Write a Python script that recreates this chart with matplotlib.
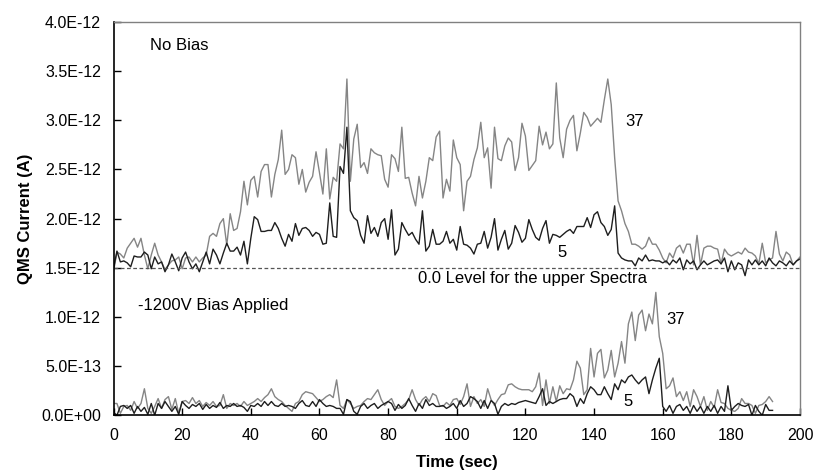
import matplotlib
matplotlib.use("Agg")
import matplotlib.pyplot as plt
from matplotlib.ticker import FuncFormatter, MultipleLocator
import numpy as np

plt.rcParams['font.family'] = ['Liberation Sans', 'DejaVu Sans']

# Upper spectra (No Bias), plotted on the +1.5E-12 baseline, units of 1E-12 A
upper_time = list(range(0, 201))
upper_m37 = [
    1.46, 1.66, 1.64, 1.60, 1.70, 1.75, 1.80, 1.71, 1.80, 1.63,
    1.49, 1.63, 1.75, 1.63, 1.56, 1.48, 1.53, 1.57, 1.58, 1.61,
    1.49, 1.60, 1.61, 1.56, 1.61, 1.56, 1.60, 1.63, 1.82, 1.85,
    1.82, 1.95, 2.00, 1.73, 2.05, 1.88, 1.90, 2.07, 2.38, 2.14,
    2.39, 2.43, 2.22, 2.48, 2.55, 2.55, 2.22, 2.45, 2.60, 2.90,
    2.45, 2.50, 2.65, 2.62, 2.35, 2.50, 2.27, 2.37, 2.43, 2.68,
    2.47, 2.25, 2.71, 2.20, 2.42, 2.38, 2.76, 2.71, 3.42, 2.38,
    2.81, 2.96, 2.52, 2.57, 2.46, 2.71, 2.67, 2.65, 2.64, 2.40,
    2.32, 2.65, 2.61, 2.48, 2.93, 2.41, 2.42, 2.26, 2.13, 2.43,
    2.21, 2.38, 2.62, 2.59, 2.83, 2.89, 2.21, 2.40, 2.28, 2.80,
    2.62, 2.55, 2.08, 2.38, 2.43, 2.60, 2.72, 2.98, 2.62, 2.72,
    2.31, 2.93, 2.61, 2.59, 2.74, 2.82, 2.78, 2.49, 2.62, 2.97,
    2.84, 2.49, 2.54, 2.59, 2.94, 2.75, 2.88, 2.71, 2.76, 3.38,
    2.82, 2.62, 2.91, 3.00, 3.05, 2.69, 2.87, 3.08, 3.03, 2.94,
    2.98, 3.02, 2.98, 3.21, 3.42, 3.16, 2.62, 2.18, 2.08, 1.95,
    1.87, 1.74, 1.74, 1.72, 1.69, 1.72, 1.81, 1.74, 1.74, 1.68,
    1.60, 1.55, 1.65, 1.60, 1.70, 1.73, 1.65, 1.74, 1.74, 1.53,
    1.83, 1.53, 1.70, 1.72, 1.72, 1.70, 1.69, 1.54, 1.69, 1.64,
    1.62, 1.64, 1.66, 1.64, 1.70, 1.66, 1.65, 1.62, 1.54, 1.75,
    1.55, 1.58, 1.60, 1.87, 1.64, 1.57, 1.66, 1.63, 1.53, 1.57,
    1.61,
]
upper_m5 = [
    1.49, 1.67, 1.56, 1.57, 1.55, 1.51, 1.62, 1.61, 1.61, 1.66,
    1.63, 1.49, 1.61, 1.54, 1.56, 1.46, 1.53, 1.64, 1.56, 1.47,
    1.60, 1.66, 1.56, 1.49, 1.54, 1.46, 1.56, 1.66, 1.54, 1.69,
    1.63, 1.54, 1.65, 1.75, 1.67, 1.67, 1.71, 1.63, 1.77, 1.54,
    1.80, 2.02, 1.99, 1.87, 1.87, 1.88, 1.88, 1.96, 1.90, 1.80,
    1.72, 1.84, 1.77, 1.95, 1.83, 1.90, 1.91, 1.88, 1.82, 1.86,
    1.84, 1.74, 1.75, 2.16, 1.82, 1.81, 2.53, 2.46, 2.93, 2.08,
    2.01, 1.98, 1.83, 1.75, 2.03, 1.85, 1.91, 1.82, 1.96, 2.00,
    1.79, 2.09, 1.63, 1.69, 1.96, 1.89, 1.83, 1.86, 1.79, 1.74,
    2.08, 1.67, 1.72, 1.89, 1.74, 1.74, 1.77, 1.87, 1.75, 1.79,
    1.68, 1.92, 1.74, 1.73, 1.70, 1.64, 1.74, 1.75, 1.87, 1.70,
    1.81, 2.00, 1.68, 1.79, 1.88, 1.69, 1.75, 1.93, 1.86, 1.76,
    1.80, 1.99, 1.89, 1.81, 1.78, 1.90, 1.98, 1.75, 1.84, 1.83,
    1.81, 1.84, 1.87, 1.89, 1.85, 1.92, 1.92, 1.92, 2.01, 1.91,
    2.04, 2.07, 1.96, 1.92, 1.83, 1.89, 2.13, 1.65, 1.60, 1.58,
    1.57, 1.57, 1.52, 1.60, 1.57, 1.63, 1.57, 1.58, 1.57, 1.57,
    1.55, 1.57, 1.53, 1.58, 1.55, 1.60, 1.48, 1.58, 1.54, 1.57,
    1.48, 1.53, 1.57, 1.53, 1.55, 1.57, 1.58, 1.54, 1.60, 1.46,
    1.57, 1.48, 1.55, 1.53, 1.42, 1.58, 1.53, 1.58, 1.53, 1.57,
    1.52, 1.60, 1.55, 1.52, 1.57, 1.55, 1.52, 1.57, 1.53, 1.57,
    1.59,
]

# Lower spectra (-1200V bias), units of 1E-12 A
lower_time = list(range(0, 193))
lower_m37 = [
    0.12, 0.12, 0.02, 0.09, 0.10, 0.05, 0.14, 0.07, 0.12, 0.27,
    0.07, 0.02, 0.09, 0.17, 0.07, 0.16, 0.19, 0.06, 0.17, 0.02,
    0.14, 0.15, 0.12, 0.18, 0.12, 0.15, 0.09, 0.13, 0.10, 0.14,
    0.09, 0.10, 0.21, 0.07, 0.12, 0.10, 0.12, 0.09, 0.14, 0.10,
    0.12, 0.14, 0.17, 0.14, 0.18, 0.21, 0.27, 0.19, 0.16, 0.14,
    0.10, 0.07, 0.04, 0.12, 0.14, 0.21, 0.24, 0.23, 0.22, 0.18,
    0.14, 0.16, 0.19, 0.21, 0.18, 0.36, 0.10, 0.07, 0.16, 0.12,
    0.07, 0.09, 0.10, 0.14, 0.17, 0.16, 0.21, 0.26, 0.16, 0.10,
    0.14, 0.17, 0.09, 0.07, 0.09, 0.12, 0.16, 0.26, 0.16, 0.10,
    0.16, 0.19, 0.14, 0.22, 0.20, 0.10, 0.09, 0.13, 0.10, 0.16,
    0.17, 0.11, 0.19, 0.32, 0.09, 0.19, 0.12, 0.16, 0.09, 0.27,
    0.16, 0.10, 0.16, 0.21, 0.22, 0.31, 0.32, 0.29, 0.27, 0.26,
    0.26, 0.26, 0.24, 0.29, 0.43, 0.10, 0.36, 0.12, 0.29, 0.14,
    0.30, 0.22, 0.27, 0.26, 0.36, 0.55, 0.48, 0.21, 0.26, 0.68,
    0.39, 0.63, 0.67, 0.38, 0.46, 0.66, 0.39, 0.53, 0.75, 0.53,
    0.93, 1.05, 0.76, 1.02, 1.07, 0.86, 1.03, 0.93, 1.25, 0.80,
    0.63, 0.27, 0.30, 0.38, 0.19, 0.24, 0.15, 0.24, 0.09, 0.26,
    0.19, 0.09, 0.19, 0.05, 0.14, 0.08, 0.26, 0.13, 0.12, 0.07,
    0.05, 0.04, 0.07, 0.17, 0.12, 0.12, 0.10, 0.02, 0.10, 0.11,
    0.14, 0.19, 0.14,
]
lower_m5 = [
    0.03, 0.00, 0.09, 0.10, 0.07, 0.10, 0.02, 0.09, 0.04, 0.08,
    0.01, 0.12, 0.00, 0.12, 0.07, 0.14, 0.09, 0.04, 0.09, 0.01,
    0.14, 0.10, 0.07, 0.11, 0.09, 0.12, 0.06, 0.11, 0.07, 0.10,
    0.08, 0.13, 0.07, 0.10, 0.09, 0.12, 0.09, 0.10, 0.08, 0.04,
    0.10, 0.09, 0.12, 0.09, 0.14, 0.10, 0.14, 0.10, 0.09, 0.12,
    0.09, 0.10, 0.09, 0.07, 0.12, 0.15, 0.10, 0.09, 0.14, 0.09,
    0.16, 0.12, 0.09, 0.10, 0.09, 0.07, 0.07, 0.01, 0.16, 0.14,
    0.04, 0.01, 0.09, 0.12, 0.07, 0.10, 0.12, 0.07, 0.10, 0.12,
    0.14, 0.12, 0.05, 0.11, 0.07, 0.10, 0.17, 0.10, 0.04, 0.12,
    0.07, 0.16, 0.10, 0.12, 0.09, 0.09, 0.10, 0.07, 0.09, 0.12,
    0.07, 0.15, 0.09, 0.12, 0.19, 0.17, 0.14, 0.07, 0.15, 0.07,
    0.15, 0.12, 0.01, 0.09, 0.12, 0.10, 0.12, 0.11, 0.13, 0.14,
    0.15, 0.14, 0.13, 0.12, 0.19, 0.27, 0.10, 0.14, 0.12, 0.14,
    0.16, 0.17, 0.17, 0.22, 0.19, 0.09, 0.17, 0.12, 0.22, 0.29,
    0.26, 0.21, 0.21, 0.29, 0.22, 0.16, 0.32, 0.26, 0.36, 0.33,
    0.39, 0.41, 0.36, 0.32, 0.36, 0.39, 0.22, 0.36, 0.48, 0.58,
    0.09, 0.04, 0.10, 0.02, 0.09, 0.11, 0.05, 0.09, 0.02, 0.10,
    0.04, 0.09, 0.02, 0.09, 0.04, 0.10, 0.02, 0.09, 0.04, 0.30,
    0.05, 0.09, 0.12, 0.10, 0.09, 0.11, 0.00, 0.10, 0.04, 0.00,
    0.11, 0.05, 0.05,
]

scale = 1e-12
baseline = 1.5e-12

fig = plt.figure(figsize=(8.16, 4.75), dpi=100)
ax = fig.add_axes([0.1391, 0.1257, 0.8413, 0.8280])

gray = '#858585'
dark = '#1e1e1e'

ax.plot(upper_time, np.array(upper_m37) * scale, color=gray, lw=1.0)
ax.plot(upper_time, np.array(upper_m5) * scale, color=dark, lw=1.0)
ax.plot(lower_time, np.array(lower_m37) * scale, color=gray, lw=1.0)
ax.plot(lower_time, np.array(lower_m5) * scale, color=dark, lw=1.0)

ax.axhline(baseline, color='#555555', lw=0.9, ls=(0, (3, 2)))

ax.set_xlim(0, 200)
ax.set_ylim(0, 4e-12)
ax.xaxis.set_major_locator(MultipleLocator(20))
ax.yaxis.set_major_locator(MultipleLocator(0.5e-12))
ax.yaxis.set_major_formatter(FuncFormatter(lambda v, p: f"{v:.1E}"))

ax.tick_params(axis='x', direction='in', length=5, width=1, labelsize=11.5, pad=9.5, colors='black')
ax.tick_params(axis='y', direction='in', length=5, width=1, labelsize=11.5, pad=9, colors='black')

for s in ['left', 'bottom']:
    ax.spines[s].set_color('black')
    ax.spines[s].set_linewidth(1.2)
for s in ['top', 'right']:
    ax.spines[s].set_color('#808080')
    ax.spines[s].set_linewidth(1.0)

ax.set_xlabel('Time (sec)', fontsize=12, fontweight='bold', labelpad=8)
ax.set_ylabel('QMS Current (A)', fontsize=12, fontweight='bold', labelpad=6)

ax.text(10.5, 3.76e-12, 'No Bias', fontsize=12, va='center', ha='left')
ax.text(7.2, 1.115e-12, '-1200V Bias Applied', fontsize=12, va='center', ha='left')
ax.text(88.8, 1.39e-12, '0.0 Level for the upper Spectra', fontsize=12, va='center', ha='left')
ax.text(149.2, 2.99e-12, '37', fontsize=12, va='center', ha='left')
ax.text(129.3, 1.66e-12, '5', fontsize=12, va='center', ha='left')
ax.text(161.0, 0.97e-12, '37', fontsize=12, va='center', ha='left')
ax.text(148.6, 0.145e-12, '5', fontsize=12, va='center', ha='left')

fig.savefig('out.png', dpi=100)
